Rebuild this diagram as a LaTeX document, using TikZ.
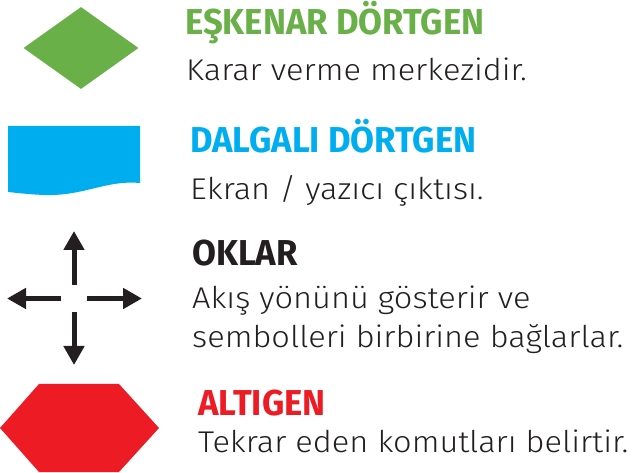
\documentclass[tikz,border=0pt]{standalone}
\usepackage{fontspec}
\setmainfont{Fira Sans Light}[FakeStretch = 1.085]
\newfontfamily\headfont{Fira Sans Bold}[FakeStretch = .963]
\usetikzlibrary{arrows.meta,shapes.geometric}

\definecolor{kararyesil}{RGB}{106,176,72}
\definecolor{ekranmavi}{RGB}{0,174,239}
\definecolor{tekrarkirmizi}{RGB}{237,28,36}
\definecolor{yazisiyah}{RGB}{35,31,32}

\begin{document}
\begin{tikzpicture}[
      x = 1pt, y = -1pt,
      head/.style = {
        anchor = base west,
        inner sep = 0,
        font = \headfont\fontsize{36}{36}\selectfont,
      },
      desc/.style = {
        anchor = base west,
        inner sep = 0,
        text = yazisiyah,
        font = \fontsize{30}{39}\selectfont,
      },
      flow/.style = {
        line width = 5pt,
        yazisiyah,
        -{Triangle[width = 20pt, length = 19pt]},
      },
    ]
    \useasboundingbox (0,0) rectangle (638,473);

    \node[diamond, fill = kararyesil, inner sep = 0,
      minimum width = 115pt, minimum height = 82pt] (karar) at (81,48) {};

    \fill[ekranmavi] (8,126) -- (140,126) -- (140,183)
      .. controls (105,180) and (85,196) .. (45,195)
      .. controls (30,194.5) and (18,193) .. (8,192) -- cycle;

    \fill[tekrarkirmizi] (0,428) -- (39,384) -- (119,384) -- (159,428)
      -- (119,472) -- (39,472) -- cycle;

    \coordinate (ust)   at (74,285);
    \coordinate (ucust) at (74,231);
    \coordinate (sol)   at (61,298.5);
    \coordinate (ucsol) at (7,298.5);
    \coordinate (sag)   at (87,298.5);
    \coordinate (ucsag) at (142,298.5);
    \coordinate (alt)   at (74,312);
    \coordinate (ucalt) at (74,365);

    \begin{scope}[flow]
      \draw (ust) -- (ucust);
      \draw (sol) -- (ucsol);
      \draw (sag) -- (ucsag);
      \draw (alt) -- (ucalt);
    \end{scope}

    \node[head, text = kararyesil] (eskenar) at (185,35) {EŞKENAR DÖRTGEN};
    \node[desc] (kararmetin) at (186,81) {Karar verme merkezidir.};

    \node[head, text = ekranmavi] (dalgali) at (190,153) {DALGALI DÖRTGEN};
    \node[desc] (ekranmetin) at (190,200) {Ekran / yazıcı çıktısı.};

    \node[head, text = yazisiyah] (oklar) at (192,266) {OKLAR};
    \node[desc] (okmetin1) at (192,309) {Akış yönünü gösterir ve};
    \node[desc] (okmetin2) at (192,348) {sembolleri birbirine bağlarlar.};

    \node[head, text = tekrarkirmizi] (altigen) at (198,416) {ALTIGEN};
    \node[desc] (tekrarmetin) at (198,452) {Tekrar eden komutları belirtir.};

  \end{tikzpicture}
\end{document}
